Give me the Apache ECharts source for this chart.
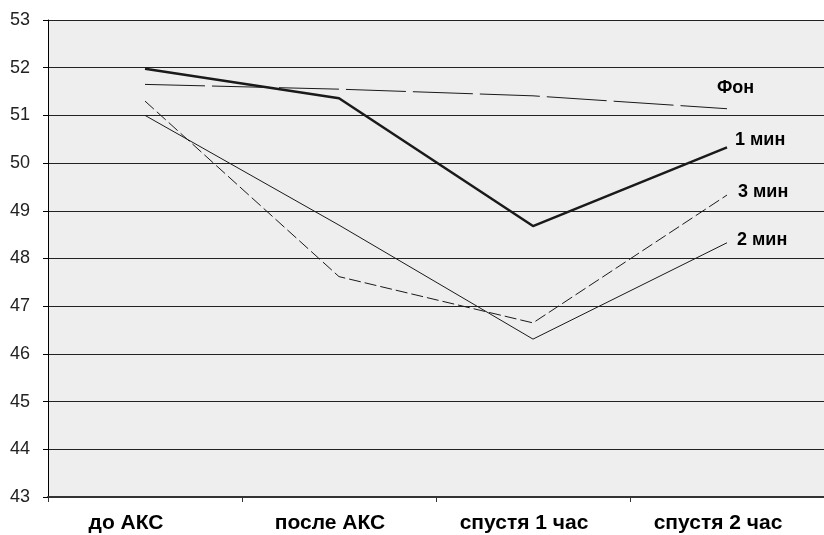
<!DOCTYPE html>
<html>
<head>
<meta charset="utf-8">
<script src="https://cdn.jsdelivr.net/npm/echarts@6/dist/echarts.min.js"></script>
<style>
  html, body { margin: 0; padding: 0; background: #ffffff; }
  #chart { width: 824px; height: 535px; }
</style>
</head>
<body>
<div id="chart"></div>
<script>
// Time points of the measurement
const categories = ['до АКС', 'после АКС', 'спустя 1 час', 'спустя 2 час'];

// Series values
const fon   = [51.65, 51.55, 51.41, 51.14];
const min1  = [51.98, 51.36, 48.68, 50.33];
const min3  = [51.30, 47.62, 46.65, 49.33];
const min2  = [51.00, 48.70, 46.31, 48.33];

// Y axis range
const yMin = 43;
const yMax = 53;
const yStep = 1;

const FONT = 'Liberation Sans, Arial, sans-serif';

const chart = echarts.init(document.getElementById('chart'), null, { renderer: 'canvas' });

function lineSeries(name, data, width, type, labelOffset) {
  return {
    name: name,
    type: 'line',
    data: data,
    symbol: 'none',
    smooth: false,
    lineStyle: { color: '#1a1a1a', width: width, type: type },
    endLabel: {
      show: true,
      formatter: name,
      color: '#000',
      fontFamily: FONT,
      fontWeight: 'bold',
      fontSize: 18,
      offset: labelOffset
    },
    emphasis: { disabled: true },
    animation: false
  };
}

chart.setOption({
  animation: false,
  grid: {
    left: 48, width: 784, top: 20, bottom: 38,
    show: true,
    backgroundColor: '#eeeeee',
    borderWidth: 0
  },
  xAxis: {
    type: 'category',
    data: categories,
    boundaryGap: true,
    axisLine: { show: true, lineStyle: { color: '#333', width: 2 } },
    axisTick: { show: true, interval: 0, length: 5, inside: false, lineStyle: { color: '#333' } },
    axisLabel: {
      interval: 0,
      hideOverlap: false,
      color: '#000',
      fontFamily: FONT,
      fontWeight: 'bold',
      fontSize: 21,
      margin: 16,
      formatter: (value, index) => (index === 0 ? '{first|' + value + '}' : '{rest|' + value + '}'),
      rich: {
        first: { fontFamily: FONT, fontWeight: 'bold', fontSize: 21, color: '#000', padding: [0, 38, 0, 0] },
        rest: { fontFamily: FONT, fontWeight: 'bold', fontSize: 21, color: '#000', padding: [0, 18, 0, 0] }
      }
    },
    splitLine: { show: false }
  },
  yAxis: {
    type: 'value',
    min: yMin,
    max: yMax,
    interval: yStep,
    axisLine: { show: true, lineStyle: { color: '#000', width: 1 } },
    axisTick: { show: true, length: 5, lineStyle: { color: '#000' } },
    axisLabel: {
      color: '#222',
      fontFamily: FONT,
      fontSize: 18,
      margin: 18
    },
    splitLine: { show: true, lineStyle: { color: '#222', width: 1 } }
  },
  series: [
    lineSeries('Фон', fon, 1, [60, 7], [-18, -21]),
    lineSeries('1 мин', min1, 2.5, 'solid', [0, -7]),
    lineSeries('3 мин', min3, 1, [12, 4], [3, -3]),
    lineSeries('2 мин', min2, 1, 'solid', [2, -3])
  ]
});
</script>
</body>
</html>
